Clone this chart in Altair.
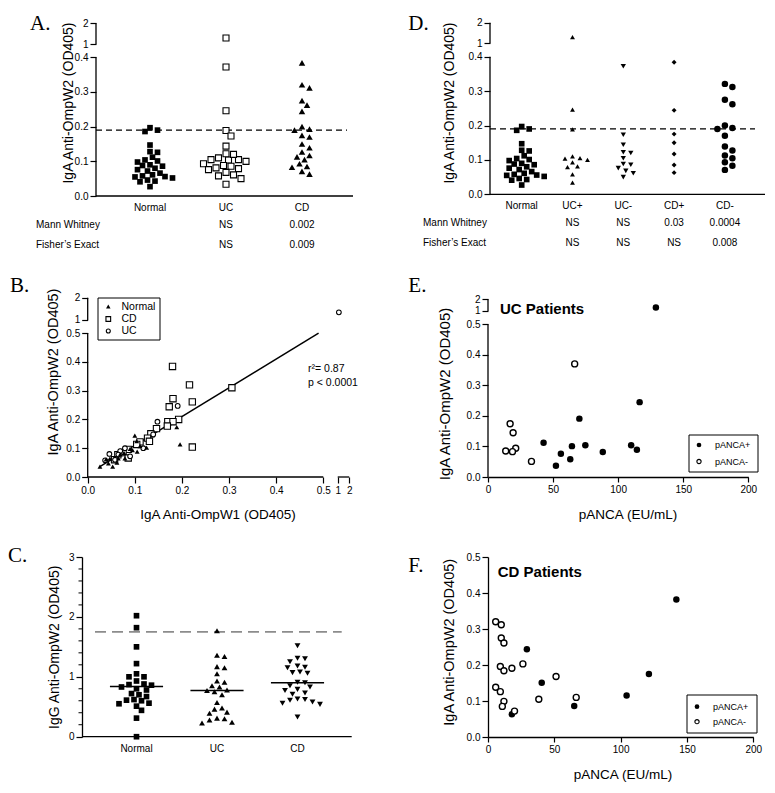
import altair as alt
import pandas as pd

FONT = "Liberation Sans"
SERIF = "Liberation Serif"

# ---------------- data ----------------
# Panels A / D : IgA anti-OmpW2 (OD405)
normal_w2 = [0.197, 0.19, 0.186, 0.147, 0.128, 0.126, 0.112, 0.104, 0.101, 0.098, 0.09, 0.088, 0.086,
             0.08, 0.076, 0.072, 0.066, 0.061, 0.058, 0.056, 0.055, 0.052, 0.046, 0.043, 0.041, 0.027]
ucp_w2 = [1.3, 0.246, 0.189, 0.11, 0.105, 0.104, 0.1, 0.093, 0.081, 0.079, 0.058, 0.034]
ucn_w2 = [0.372, 0.173, 0.144, 0.122, 0.12, 0.105, 0.088, 0.086, 0.076, 0.068, 0.061, 0.05]
cdp_w2 = [0.384, 0.244, 0.175, 0.15, 0.117, 0.085, 0.063]
cdn_w2 = [0.321, 0.312, 0.275, 0.262, 0.2, 0.193, 0.19, 0.17, 0.139, 0.127, 0.113, 0.105, 0.093, 0.083, 0.071]
cutoff_w2 = 0.19

cats_A = ["Normal", "UC", "CD"]
mw_A = ["", "NS", "0.002"]
fe_A = ["", "NS", "0.009"]
cats_D = ["Normal", "UC+", "UC-", "CD+", "CD-"]
mw_D = ["", "NS", "NS", "0.03", "0.0004"]
fe_D = ["", "NS", "NS", "NS", "0.008"]

# Panel B : OmpW1 (x) vs OmpW2 (y)
b_norm_x = [0.026, 0.039, 0.044, 0.053, 0.047, 0.065, 0.077, 0.090, 0.100, 0.104, 0.105, 0.125, 0.189, 0.196,
            0.069, 0.079, 0.095, 0.111, 0.062]
b_norm_y = [0.036, 0.061, 0.047, 0.036, 0.064, 0.065, 0.084, 0.098, 0.144, 0.125, 0.088, 0.102, 0.173, 0.113,
            0.079, 0.065, 0.093, 0.107, 0.050]
b_cd_x = [0.180, 0.216, 0.181, 0.222, 0.173, 0.306, 0.193, 0.170, 0.181, 0.169, 0.222, 0.146, 0.134, 0.127,
          0.131, 0.111, 0.104, 0.086, 0.075, 0.086, 0.064, 0.057]
b_cd_y = [0.384, 0.320, 0.272, 0.261, 0.244, 0.310, 0.200, 0.192, 0.192, 0.177, 0.104, 0.168, 0.150, 0.135,
          0.124, 0.122, 0.113, 0.096, 0.085, 0.066, 0.077, 0.060]
b_uc_x = [1.1, 0.191, 0.148, 0.139, 0.118, 0.079, 0.069, 0.046, 0.037, 0.058, 0.065, 0.090]
b_uc_y = [1.34, 0.247, 0.192, 0.148, 0.100, 0.100, 0.090, 0.080, 0.058, 0.060, 0.078, 0.072]
reg_x = [0.025, 0.49]
reg_y = [0.035, 0.50]
b_stats = ["r\u00b2= 0.87", "p < 0.0001"]

# Panel C : IgG anti-OmpW2
c_normal = [2.02, 1.82, 1.5, 1.22, 1.05, 1.0, 1.0, 0.93, 0.88, 0.87, 0.86, 0.83, 0.8, 0.78, 0.72, 0.7,
            0.67, 0.62, 0.61, 0.6, 0.56, 0.55, 0.51, 0.44, 0.31, 0.0]
c_uc = [1.77, 1.36, 1.34, 1.17, 1.15, 1.05, 0.93, 0.91, 0.85, 0.83, 0.78, 0.77, 0.75, 0.7, 0.57, 0.48,
        0.46, 0.41, 0.39, 0.31, 0.3, 0.28, 0.24, 0.23]
c_cd = [1.52, 1.31, 1.30, 1.25, 1.18, 1.16, 1.15, 1.08, 1.07, 1.06, 0.91, 0.90, 0.85, 0.83, 0.79, 0.77,
        0.73, 0.71, 0.63, 0.62, 0.61, 0.58, 0.56, 0.54, 0.33]
c_medians = [0.84, 0.77, 0.90]
c_cutoff = 1.75
cats_C = ["Normal", "UC", "CD"]

# Panel E : UC patients, pANCA vs OmpW2
e_pos_x = [129, 116.5, 70.2, 42.7, 64.5, 74.8, 110, 56, 63.2, 88.2, 114.4, 52.2]
e_pos_y = [1.3, 0.245, 0.191, 0.112, 0.101, 0.104, 0.104, 0.076, 0.058, 0.082, 0.089, 0.037]
e_neg_x = [66.6, 17, 19.3, 21.3, 13.6, 18.8, 33.4]
e_neg_y = [0.37, 0.174, 0.145, 0.094, 0.085, 0.083, 0.051]

# Panel F : CD patients
f_pos_x = [142, 121.3, 104.5, 65, 40.5, 29.3, 18]
f_pos_y = [0.382, 0.175, 0.115, 0.086, 0.151, 0.244, 0.063]
f_neg_x = [5.8, 10, 10, 12, 26.3, 18, 9.3, 12, 51.3, 5.8, 9.3, 12, 10.8, 20, 38.3, 66.5]
f_neg_y = [0.32, 0.312, 0.275, 0.261, 0.203, 0.191, 0.196, 0.184, 0.168, 0.138, 0.126, 0.099, 0.085,
           0.072, 0.105, 0.11]

# ---------------- layout ----------------
XL, XR = 82.0, 488.0
TOPS = [22.0, 297.0, 557.0]
HS = [195, 180, 180]
WL = 326.0
SP = 80
ONE = pd.DataFrame({"a": [0]})
LW = 1.3


def disp(v, lim, d1, d2):
    return v if v <= lim else d1 + (v - 1.0) * (d2 - d1)


def y_domain(zero_px, k, top, h):
    return [min(0.0, (zero_px - (top + h)) / k), (zero_px - top) / k]


def x_domain(zero_px, k, left, w):
    return [(left - zero_px) / k, (left + w - zero_px) / k]


def broken_axis(lim, step, d1, d2, offset=0):
    n = int(round(lim / step))
    vals = [round(i * step, 4) for i in range(n + 1)] + [d1, d2]
    thr = (lim + d1) / 2
    mid = (d1 + d2) / 2
    return alt.Axis(values=vals, domain=False, offset=offset, title=None,
                    labelExpr=f"datum.value < {thr:.4f} ? format(datum.value, '.1f') : "
                              f"(datum.value < {mid:.4f} ? '1' : '2')")


def swarm(vals, k, diam, step=2.5, nmax=16):
    """Beeswarm layout: horizontal pixel offsets so that markers do not overlap."""
    order = sorted(range(len(vals)), key=lambda i: -vals[i])
    placed, offs = [], [0.0] * len(vals)
    cands = [0.0]
    for j in range(1, nmax):
        cands += [j * step, -j * step]
    for i in order:
        yy = vals[i] * k
        for c in cands:
            if all((c - px) ** 2 + (yy - py) ** 2 >= diam ** 2 for px, py in placed):
                offs[i] = c
                placed.append((c, yy))
                break
    return offs


def T(s, x, y, size=10, align="left", baseline="middle", font=FONT, weight="normal", angle=0):
    return alt.Chart(ONE).mark_text(text=s, fontSize=size, align=align, baseline=baseline, font=font,
                                    fontWeight=weight, angle=angle, color="black").encode(
        x=alt.value(x), y=alt.value(y))


def pts(df, X, Y, shape, size, filled=True, sw=1.1):
    if filled:
        m = alt.Chart(df).mark_point(shape=shape, size=size, filled=True, color="black", opacity=1)
    else:
        m = alt.Chart(df).mark_point(shape=shape, size=size, filled=False, fill="white", stroke="black",
                                     strokeWidth=sw, opacity=1)
    return m.encode(x=X, y=Y)


def legend_box(x, x2, y, y2):
    return alt.Chart(ONE).mark_rect(fill="white", stroke="black", strokeWidth=1).encode(
        x=alt.value(x), x2=alt.value(x2), y=alt.value(y), y2=alt.value(y2))


def legend_sym(x, y, shape, size, filled):
    if filled:
        m = alt.Chart(ONE).mark_point(shape=shape, size=size, filled=True, color="black", opacity=1)
    else:
        m = alt.Chart(ONE).mark_point(shape=shape, size=size, filled=False, fill="white", stroke="black",
                                      strokeWidth=1.1, opacity=1)
    return m.encode(x=alt.value(x), y=alt.value(y))


# ---------------- strip panels A and D ----------------
def strip_panel(top, left, width, zero_y, k_y, idx0, k_x, d1, d2, axis_px, xend_px, cut_end_px,
                groups, cats, mw, fe, lab_y, mw_left, title_c, letter, letter_x):
    h = HS[0]
    ax_rel = axis_px - left
    X = alt.X("x:Q", scale=alt.Scale(domain=x_domain(idx0, k_x, left, width), nice=False, zero=False),
              axis=None)
    Y = alt.Y("y:Q", scale=alt.Scale(domain=y_domain(zero_y, k_y, top, h), nice=False, zero=False),
              axis=broken_axis(0.4, 0.1, d1, d2, offset=-ax_rel))
    layers = []
    seg = pd.DataFrame({"y": [0.0, d1], "y2": [0.4, d2]})
    layers.append(alt.Chart(seg).mark_rule(color="black", strokeWidth=LW).encode(
        x=alt.value(ax_rel), y=Y, y2=alt.Y2("y2")))
    layers.append(alt.Chart(pd.DataFrame({"y": [0.0]})).mark_rule(color="black", strokeWidth=LW).encode(
        x=alt.value(ax_rel), x2=alt.value(xend_px - left), y=Y))
    layers.append(alt.Chart(pd.DataFrame({"y": [cutoff_w2]})).mark_rule(
        color="black", strokeWidth=LW, strokeDash=[6, 4]).encode(
        x=alt.value(ax_rel), x2=alt.value(cut_end_px - left), y=Y))
    for idx, vals, shape, size, filled, diam in groups:
        dv = [disp(v, 0.4, d1, d2) for v in vals]
        offs = swarm(dv, k_y, diam)
        df = pd.DataFrame({"x": [idx + o / k_x for o in offs], "y": dv})
        layers.append(pts(df, X, Y, shape, size, filled))
    n = len(cats)
    idxs = list(range(1, n + 1))
    for texts, yy in ((cats, lab_y), (mw, lab_y + 17), (fe, lab_y + 37)):
        layers.append(alt.Chart(pd.DataFrame({"x": idxs, "t": texts})).mark_text(
            fontSize=10, font=FONT, align="center", baseline="middle", color="black").encode(
            x=X, y=alt.value(yy - top), text="t:N"))
    layers.append(T("Mann Whitney", mw_left - left, lab_y + 17 - top))
    layers.append(T("Fisher\u2019s Exact", mw_left - left, lab_y + 37 - top))
    layers.append(T("IgA Anti-OmpW2 (OD405)", title_c[0] - left, title_c[1] - top, size=14,
                    align="center", angle=270))
    layers.append(T(letter, letter_x - left, 30 - top, size=21, font=SERIF, baseline="alphabetic"))
    return alt.layer(*layers).properties(width=width, height=h)


A_groups = [(1, normal_w2, "square", 32, True, 6.0),
            (2, ucp_w2 + ucn_w2, "square", 36, False, 6.6),
            (3, cdp_w2 + cdn_w2, "triangle-up", 42, True, 6.4)]
panelA = strip_panel(TOPS[0], XL, WL, 196.0, 346.7, 74.0, 76.0, 0.4375, 0.498, 96.0, 353.0, 347.0,
                     A_groups, cats_A, mw_A, fe_A, 208.0, 36.0, (68.5, 103.0), "A.", 30.0)
anchor = alt.Chart(ONE).mark_rule(opacity=0).encode(
    x=alt.value(8 - XL), x2=alt.value(10 - XL), y=alt.value(8 - TOPS[0]))
panelA = alt.layer(panelA, anchor)

D_groups = [(1, normal_w2, "square", 32, True, 6.0),
            (2, ucp_w2, "triangle-up", 24, True, 5.8),
            (3, ucn_w2, "triangle-down", 28, True, 5.8),
            (4, cdp_w2, "diamond", 24, True, 5.5),
            (5, cdn_w2, "circle", 42, True, 6.8)]
panelD = strip_panel(TOPS[0], XR, 277.0, 194.3, 344.0, 470.9, 50.8, 0.439, 0.499, 490.0, 765.0, 755.0,
                     D_groups, cats_D, mw_D, fe_D, 206.0, 423.0, (450.3, 103.0), "D.", 408.3)

# ---------------- panel B ----------------
top = TOPS[1]
B_xd1, B_xd2 = 0.5306, 0.555
B_yd1, B_yd2 = 0.5457, 0.623
XB = alt.X("x:Q", scale=alt.Scale(domain=x_domain(87.7, 471.2, XL, WL), nice=False, zero=False),
           axis=broken_axis(0.5, 0.1, B_xd1, B_xd2, offset=0))
YB = alt.Y("y:Q", scale=alt.Scale(domain=y_domain(477.7, 289.0, top, HS[1]), nice=False, zero=False),
           axis=broken_axis(0.5, 0.1, B_yd1, B_yd2, offset=-(87.7 - XL)))


def bdf(xs, ys):
    return pd.DataFrame({"x": [disp(v, 0.5, B_xd1, B_xd2) for v in xs],
                         "y": [disp(v, 0.5, B_yd1, B_yd2) for v in ys]})


B_layers = [
    alt.Chart(pd.DataFrame({"x": [0.0, 0.0], "y": [0.0, B_yd1], "y2": [0.5, B_yd2]})).mark_rule(
        color="black", strokeWidth=LW).encode(x=XB, y=YB, y2=alt.Y2("y2")),
    alt.Chart(pd.DataFrame({"y": [0.0, 0.0], "x": [0.0, B_xd1], "x2": [0.5, B_xd2]})).mark_rule(
        color="black", strokeWidth=LW).encode(x=XB, x2=alt.X2("x2"), y=YB),
    alt.Chart(pd.DataFrame({"x": reg_x, "y": reg_y})).mark_line(color="black", strokeWidth=1.5).encode(
        x=XB, y=YB),
    pts(bdf(b_cd_x, b_cd_y), XB, YB, "square", 40, False),
    pts(bdf(b_uc_x, b_uc_y), XB, YB, "circle", 22, False),
    pts(bdf(b_norm_x, b_norm_y), XB, YB, "triangle-up", 24, True),
    legend_box(98 - XL, 160 - XL, 298 - top, 340 - top),
    legend_sym(108.3 - XL, 306.5 - top, "triangle-up", 20, True),
    legend_sym(108.3 - XL, 319 - top, "square", 22, False),
    legend_sym(108.3 - XL, 331 - top, "circle", 16, False),
    T("Normal", 121.5 - XL, 306.5 - top, size=10.5),
    T("CD", 121.5 - XL, 319 - top, size=10.5),
    T("UC", 121.5 - XL, 331 - top, size=10.5),
    T(b_stats[0], 308 - XL, 369 - top, size=10.5),
    T(b_stats[1], 308 - XL, 383 - top, size=10.5),
    T("IgA Anti-OmpW1 (OD405)", 218 - XL, 515 - top, size=13.5, align="center"),
    T("IgA Anti-OmpW2 (OD405)", 54 - XL, 372 - top, size=14.5, align="center", angle=270),
    T("B.", 10 - XL, 291.7 - top, size=21, font=SERIF, baseline="alphabetic"),
]
panelB = alt.layer(*B_layers).properties(width=WL, height=HS[1])

# ---------------- panel E ----------------
E_yd1, E_yd2 = 0.5433, 0.5815
WE = 260.3
XE = alt.X("x:Q", scale=alt.Scale(domain=[0, 200], nice=False, zero=False),
           axis=alt.Axis(values=[0, 50, 100, 150, 200], format="d", title=None, tickSize=5))
YE = alt.Y("y:Q", scale=alt.Scale(domain=y_domain(477.7, 306.8, top, HS[1]), nice=False, zero=False),
           axis=broken_axis(0.5, 0.1, E_yd1, E_yd2, offset=0))


def edf(xs, ys):
    return pd.DataFrame({"x": xs, "y": [disp(v, 0.5, E_yd1, E_yd2) for v in ys]})


E_layers = [
    alt.Chart(pd.DataFrame({"x": [0.0, 0.0], "y": [0.0, E_yd1], "y2": [0.5, E_yd2]})).mark_rule(
        color="black", strokeWidth=LW).encode(x=XE, y=YE, y2=alt.Y2("y2")),
    pts(edf(e_pos_x, e_pos_y), XE, YE, "circle", 42, True),
    pts(edf(e_neg_x, e_neg_y), XE, YE, "circle", 36, False, sw=1.4),
    T("UC Patients", 500 - XR, 309 - top, size=15, weight="bold"),
    legend_box(689 - XR, 758 - XR, 435 - top, 472 - top),
    legend_sym(699 - XR, 445 - top, "circle", 22, True),
    legend_sym(699 - XR, 461.5 - top, "circle", 18, False),
    T("pANCA+", 715 - XR, 445 - top, size=9),
    T("pANCA-", 715 - XR, 461.5 - top, size=9),
    T("pANCA (EU/mL)", 628 - XR, 515 - top, size=13.5, align="center"),
    T("IgA Anti-OmpW2 (OD405)", 444.7 - XR, 394 - top, size=15, align="center", angle=270),
    T("E.", 408.3 - XR, 291.7 - top, size=21, font=SERIF, baseline="alphabetic"),
]
panelE = alt.layer(*E_layers).properties(width=WE, height=HS[1])

# ---------------- panel C ----------------
top = TOPS[2]
C_k = 59.8
C_idx0, C_kx = 56.0, 80.5
XC = alt.X("x:Q", scale=alt.Scale(domain=x_domain(C_idx0, C_kx, XL, WL), nice=False, zero=False), axis=None)
YC = alt.Y("y:Q", scale=alt.Scale(domain=[(736.7 - (top + HS[2])) / C_k, 3.0], nice=False, zero=False),
           axis=alt.Axis(values=[0, 1, 2, 3], format="d", title=None, tickSize=6))
minor = [round(0.2 * i, 1) for i in range(1, 15) if i % 5 != 0]
C_layers = [
    alt.Chart(pd.DataFrame({"y": minor})).mark_rule(color="black", strokeWidth=1).encode(
        x=alt.value(-3.5), x2=alt.value(0), y=YC),
    alt.Chart(pd.DataFrame({"y": [0.0]})).mark_rule(color="black", strokeWidth=LW).encode(
        x=alt.value(0), x2=alt.value(351.7 - XL), y=YC),
    alt.Chart(pd.DataFrame({"y": [c_cutoff]})).mark_rule(
        color="#8c8c8c", strokeWidth=1.6, strokeDash=[11, 6]).encode(
        x=alt.value(95 - XL), x2=alt.value(341.7 - XL), y=YC),
]
for idx, vals, shape, size in ((1, c_normal, "square", 32), (2, c_uc, "triangle-up", 34),
                               (3, c_cd, "triangle-down", 34)):
    offs = swarm(vals, C_k, 6.4)
    df = pd.DataFrame({"x": [idx + o / C_kx for o in offs], "y": vals})
    C_layers.append(pts(df, XC, YC, shape, size, True))
C_layers += [
    alt.Chart(pd.DataFrame({"x": [i - 0.33 for i in (1, 2, 3)], "x2": [i + 0.33 for i in (1, 2, 3)],
                            "y": c_medians})).mark_rule(color="black", strokeWidth=1.5).encode(
        x=XC, x2=alt.X2("x2"), y=YC),
    alt.Chart(pd.DataFrame({"x": [1, 2, 3], "t": cats_C})).mark_text(
        fontSize=10, font=FONT, align="center", baseline="middle", color="black").encode(
        x=XC, y=alt.value(749 - top), text="t:N"),
    T("IgG Anti-OmpW2 (OD405)", 55.3 - XL, 647.3 - top, size=14, align="center", angle=270),
    T("C.", 8 - XL, 561.7 - top, size=21, font=SERIF, baseline="alphabetic"),
]
panelC = alt.layer(*C_layers).properties(width=WL, height=HS[2])

# ---------------- panel F ----------------
WF = 265.3
XF = alt.X("x:Q", scale=alt.Scale(domain=[0, 200], nice=False, zero=False),
           axis=alt.Axis(values=[0, 50, 100, 150, 200], format="d", title=None, tickSize=5))
YF = alt.Y("y:Q", scale=alt.Scale(domain=[0, 0.5], nice=False, zero=False),
           axis=alt.Axis(values=[0, 0.1, 0.2, 0.3, 0.4, 0.5], format=".1f", title=None, tickSize=6))
F_layers = [
    pts(pd.DataFrame({"x": f_pos_x, "y": f_pos_y}), XF, YF, "circle", 42, True),
    pts(pd.DataFrame({"x": f_neg_x, "y": f_neg_y}), XF, YF, "circle", 36, False, sw=1.4),
    T("CD Patients", 497.7 - XR, 571.7 - top, size=15, weight="bold"),
    legend_box(687 - XR, 757 - XR, 695 - top, 733 - top),
    legend_sym(697 - XR, 706.7 - top, "circle", 22, True),
    legend_sym(697 - XR, 721.7 - top, "circle", 18, False),
    T("pANCA+", 713 - XR, 706.7 - top, size=9),
    T("pANCA-", 713 - XR, 721.7 - top, size=9),
    T("pANCA (EU/mL)", 623 - XR, 775 - top, size=13.5, align="center"),
    T("IgA Anti-OmpW2 (OD405)", 450 - XR, 642.3 - top, size=14.5, align="center", angle=270),
    T("F.", 408.3 - XR, 571.7 - top, size=21, font=SERIF, baseline="alphabetic"),
]
panelF = alt.layer(*F_layers).properties(width=WF, height=HS[2])

chart = alt.concat(panelA, panelD, panelB, panelE, panelC, panelF, columns=2, spacing=SP,
                   bounds="flush").properties(padding=0, background="white").configure_view(
    stroke=None).configure_axis(
    labelFont=FONT, labelFontSize=10, labelColor="black", labelPadding=2, tickColor="black",
    tickWidth=1.2, tickSize=6, domainColor="black", domainWidth=LW, grid=False, labelOverlap=False,
    labelFlush=False)

chart.save("out.html", embed_options={"renderer": "svg", "actions": False})
